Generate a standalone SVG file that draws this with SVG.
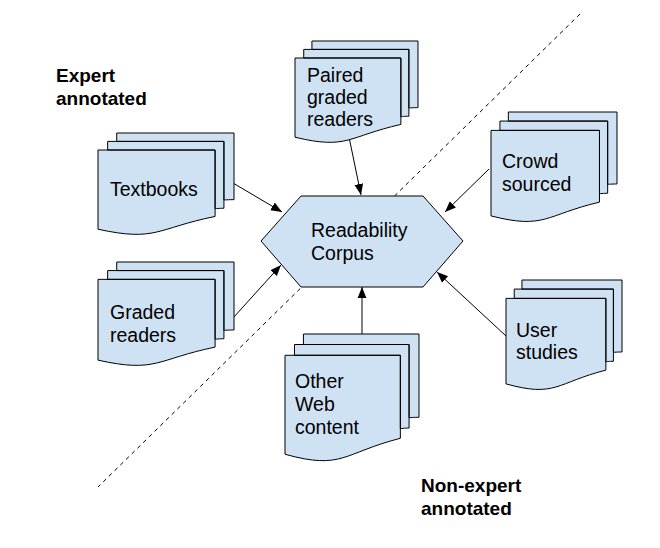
<svg xmlns="http://www.w3.org/2000/svg" xmlns:xlink="http://www.w3.org/1999/xlink" width="660" height="548" viewBox="0 0 660 548">
<style>
.doc{fill:#cfe2f3;stroke:#000;stroke-width:1;vector-effect:non-scaling-stroke;stroke-linejoin:round}
.hex{fill:#cfe2f3;stroke:#000;stroke-width:1}
.t{font-family:"Liberation Sans",Arial,sans-serif;font-size:19.5px;fill:#000}
.b{font-family:"Liberation Sans",Arial,sans-serif;font-size:19px;font-weight:bold;fill:#000}
.arr{stroke:#000;stroke-width:1;fill:none;marker-end:url(#ah)}
.dash{stroke:#000;stroke-width:1;stroke-dasharray:4,4;fill:none}
</style>
<defs>
<marker id="ah" viewBox="0 0 10 10" refX="10" refY="5" markerWidth="11" markerHeight="11" orient="auto" markerUnits="userSpaceOnUse">
<path d="M0,1 L10,5 L0,9 Z" fill="#000"/>
</marker>
<path id="md" class="doc" d="M0,20782 C9298,23542 9298,20582 18595,18022 L18595,3675 L0,3675 Z M1532,3675 L1532,1815 L20000,1815 L20000,16252 C19298,16252 18595,16352 18595,16352 L18595,3675 Z M2972,1815 L2972,0 L21600,0 L21600,14392 C20800,14392 20000,14467 20000,14467 L20000,1815 Z"/>
</defs>
<rect width="660" height="548" fill="#fff"/>
<line class="dash" x1="580" y1="14" x2="98" y2="487"/>
<g id="label-expert">
<text class="b" x="56" y="82">Expert</text>
<text class="b" x="56" y="105">annotated</text>
</g>
<g id="label-nonexpert">
<text class="b" x="421" y="492">Non-expert</text>
<text class="b" x="421" y="515">annotated</text>
</g>
<g id="connectors">
<line class="arr" x1="233" y1="183" x2="282" y2="212"/>
<line class="arr" x1="349" y1="137" x2="361" y2="195"/>
<line class="arr" x1="489" y1="169" x2="445" y2="212"/>
<line class="arr" x1="233" y1="318" x2="281" y2="265"/>
<line class="arr" x1="362" y1="335" x2="362" y2="287"/>
<line class="arr" x1="506" y1="336" x2="437" y2="272"/>
</g>
<g id="corpus">
<polygon class="hex" points="261,241 301,196 423,196 463,241 423,287 301,287"/>
<text class="t" x="311" y="237">Readability</text>
<text class="t" x="311" y="260">Corpus</text>
</g>
<g id="textbooks">
<use href="#md" transform="translate(98,133) scale(0.0062963,0.0046296)"/>
<text class="t" x="110" y="196">Textbooks</text>
</g>
<g id="paired">
<use href="#md" transform="translate(295,41) scale(0.0056944,0.0046296)"/>
<text class="t" x="307" y="82">Paired</text>
<text class="t" x="307" y="104">graded</text>
<text class="t" x="307" y="126">readers</text>
</g>
<g id="crowd">
<use href="#md" transform="translate(491,112) scale(0.0058333,0.005)"/>
<text class="t" x="502" y="168">Crowd</text>
<text class="t" x="502" y="191">sourced</text>
</g>
<g id="graded">
<use href="#md" transform="translate(98,262) scale(0.0062963,0.0047222)"/>
<text class="t" x="110" y="319">Graded</text>
<text class="t" x="110" y="342">readers</text>
</g>
<g id="otherweb">
<use href="#md" transform="translate(285,334) scale(0.0062037,0.005787)"/>
<text class="t" x="295" y="388">Other</text>
<text class="t" x="295" y="411">Web</text>
<text class="t" x="295" y="434">content</text>
</g>
<g id="userstudies">
<use href="#md" transform="translate(506,280) scale(0.0053704,0.005)"/>
<text class="t" x="516" y="337">User</text>
<text class="t" x="516" y="359">studies</text>
</g>
</svg>
